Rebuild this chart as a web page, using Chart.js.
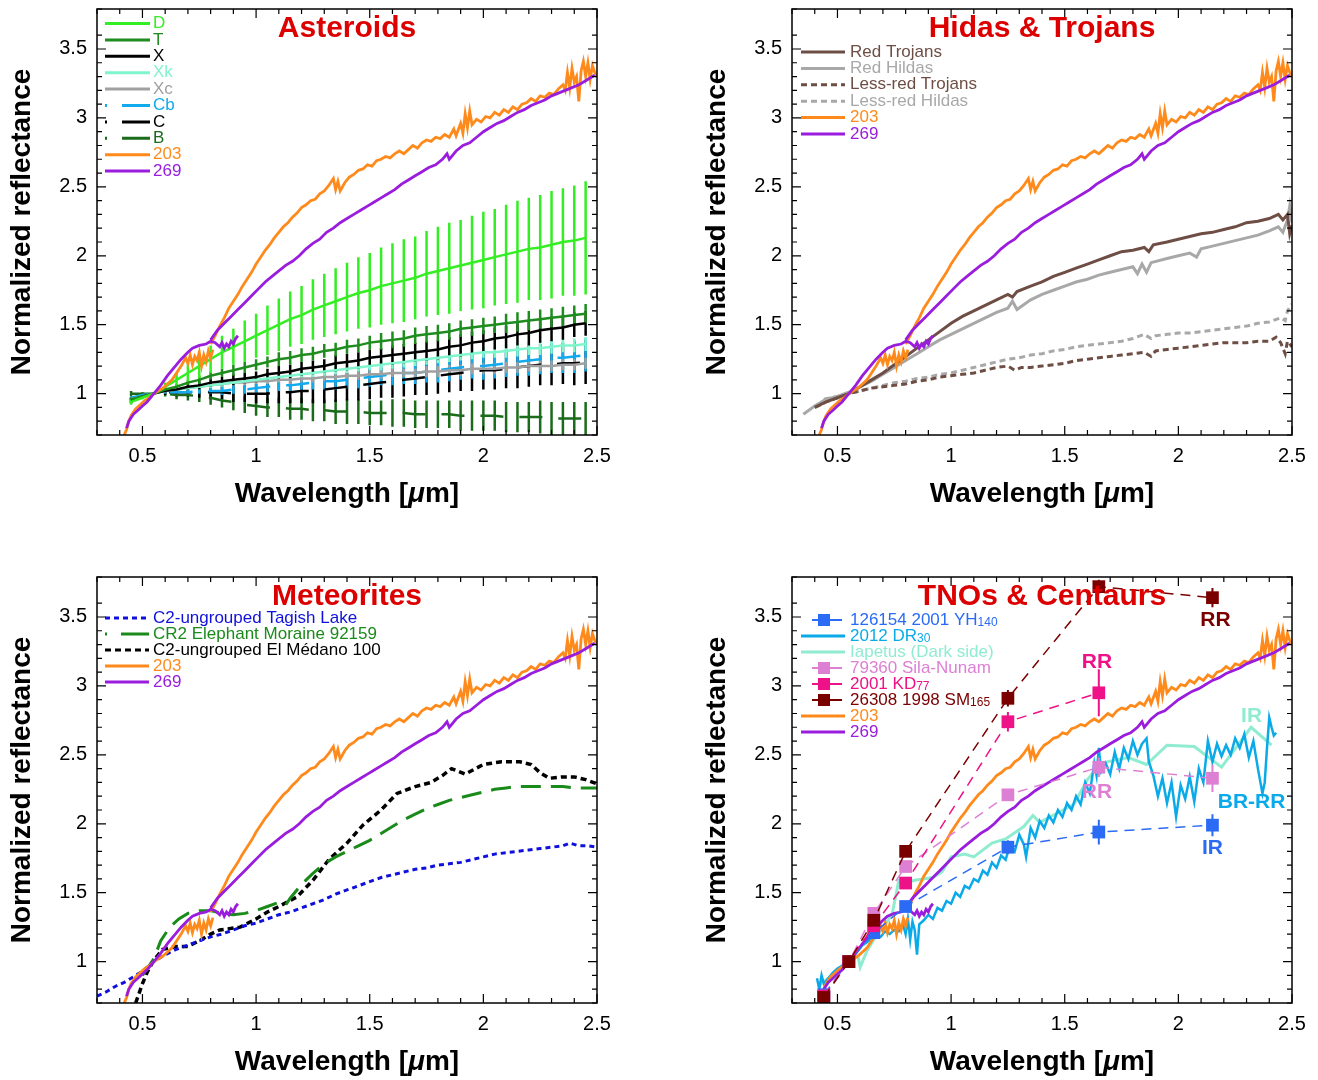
<!DOCTYPE html>
<html>
<head>
<meta charset="utf-8">
<script src="https://cdn.jsdelivr.net/npm/chart.js@4.4.1/dist/chart.umd.min.js"></script>
<style>
  html, body { margin: 0; padding: 0; background: #fff; overflow: hidden; }
  #wrap { position: relative; width: 1318px; height: 1080px; overflow: hidden; }
  canvas { position: absolute; }
</style>
</head>
<body>
<div id="wrap">
  <canvas id="astChart" width="659" height="540" style="left:0;top:-13px"></canvas>
  <canvas id="troChart" width="659" height="540" style="left:659px;top:-13px"></canvas>
  <canvas id="metChart" width="659" height="540" style="left:0;top:540px"></canvas>
  <canvas id="tnoChart" width="659" height="540" style="left:659px;top:540px"></canvas>
</div>
<script>
const FONT = '"Liberation Sans", Arial, Helvetica, sans-serif';
Chart.defaults.font.family = FONT;
Chart.defaults.color = "#000";

// axes
const X_MIN = 0.3, X_MAX = 2.5, Y_MIN = 0.7, Y_MAX = 3.79;
const X_LABELS = [0.5, 1, 1.5, 2, 2.5];
const Y_LABELS = [1, 1.5, 2, 2.5, 3, 3.5];

// 203 and 269 spectra (visible part, then near-IR part)
const S203_VIS = [[0.42,0.70],[0.43,0.74],[0.44,0.80],[0.45,0.84],[0.47,0.89],[0.49,0.92],[0.51,0.95],[0.53,0.97],[0.55,1.00],[0.57,1.02],[0.59,1.04],[0.61,1.07],[0.63,1.10],[0.65,1.15],[0.67,1.20],[0.69,1.26],[0.70,1.22],[0.71,1.28],[0.72,1.21],[0.73,1.27],[0.74,1.24],[0.75,1.30],[0.76,1.20],[0.77,1.28],[0.78,1.23],[0.79,1.31],[0.80,1.26],[0.81,1.32]];
const S203_NIR = [[0.80,1.36],[0.82,1.42],[0.84,1.49],[0.86,1.55],[0.88,1.62],[0.90,1.67],[0.92,1.72],[0.94,1.78],[0.96,1.83],[0.98,1.88],[1.00,1.94],[1.02,1.99],[1.04,2.04],[1.06,2.08],[1.08,2.13],[1.10,2.17],[1.12,2.21],[1.14,2.24],[1.16,2.28],[1.18,2.31],[1.20,2.35],[1.22,2.37],[1.24,2.40],[1.26,2.41],[1.28,2.45],[1.30,2.47],[1.32,2.51],[1.34,2.56],[1.35,2.48],[1.36,2.54],[1.37,2.47],[1.39,2.53],[1.41,2.57],[1.43,2.59],[1.45,2.62],[1.47,2.63],[1.49,2.66],[1.51,2.65],[1.53,2.69],[1.55,2.70],[1.57,2.72],[1.59,2.71],[1.61,2.74],[1.63,2.76],[1.65,2.74],[1.67,2.77],[1.69,2.80],[1.71,2.78],[1.73,2.82],[1.75,2.84],[1.77,2.83],[1.79,2.86],[1.81,2.85],[1.83,2.88],[1.85,2.86],[1.87,2.92],[1.88,2.87],[1.90,2.96],[1.91,2.89],[1.92,3.03],[1.93,2.93],[1.94,3.05],[1.95,2.95],[1.97,2.99],[1.99,2.97],[2.01,3.01],[2.03,3.00],[2.05,3.04],[2.07,3.02],[2.09,3.06],[2.11,3.04],[2.13,3.08],[2.15,3.06],[2.17,3.10],[2.19,3.11],[2.21,3.14],[2.23,3.12],[2.25,3.16],[2.27,3.15],[2.29,3.18],[2.31,3.17],[2.33,3.21],[2.35,3.24],[2.36,3.20],[2.37,3.33],[2.38,3.22],[2.39,3.36],[2.40,3.26],[2.41,3.30],[2.42,3.12],[2.43,3.34],[2.44,3.41],[2.45,3.30],[2.46,3.40],[2.47,3.28],[2.48,3.38],[2.49,3.33],[2.50,3.30]];
const S269_VIS = [[0.43,0.75],[0.44,0.80],[0.46,0.85],[0.48,0.88],[0.50,0.91],[0.52,0.94],[0.55,1.00],[0.58,1.06],[0.61,1.13],[0.64,1.19],[0.67,1.25],[0.70,1.30],[0.72,1.33],[0.75,1.35],[0.78,1.36],[0.80,1.38],[0.82,1.37],[0.84,1.34],[0.85,1.37],[0.86,1.33],[0.87,1.36],[0.88,1.34],[0.89,1.38],[0.90,1.36],[0.91,1.40],[0.92,1.42]];
const S269_NIR = [[0.80,1.39],[0.83,1.46],[0.86,1.51],[0.89,1.56],[0.92,1.61],[0.95,1.66],[0.98,1.71],[1.01,1.76],[1.04,1.81],[1.07,1.85],[1.10,1.89],[1.13,1.93],[1.16,1.96],[1.19,2.00],[1.22,2.05],[1.25,2.09],[1.28,2.12],[1.31,2.17],[1.34,2.20],[1.37,2.24],[1.40,2.27],[1.43,2.30],[1.46,2.33],[1.49,2.36],[1.52,2.39],[1.55,2.42],[1.58,2.45],[1.61,2.48],[1.64,2.52],[1.67,2.55],[1.70,2.58],[1.73,2.61],[1.76,2.64],[1.79,2.66],[1.82,2.70],[1.84,2.74],[1.85,2.70],[1.88,2.76],[1.91,2.80],[1.94,2.82],[1.97,2.86],[2.00,2.90],[2.03,2.93],[2.06,2.96],[2.09,2.98],[2.12,3.01],[2.15,3.04],[2.18,3.06],[2.21,3.09],[2.24,3.11],[2.27,3.13],[2.30,3.16],[2.33,3.18],[2.36,3.20],[2.39,3.22],[2.42,3.24],[2.45,3.27],[2.48,3.30],[2.49,3.31]];

// asteroid class means and standard deviations
const CLASS_WL = [0.45,0.50,0.55,0.60,0.65,0.70,0.75,0.80,0.85,0.90,0.95,1.00,1.05,1.10,1.15,1.20,1.25,1.30,1.35,1.40,1.45,1.50,1.55,1.60,1.65,1.70,1.75,1.80,1.85,1.90,1.95,2.00,2.05,2.10,2.15,2.20,2.25,2.30,2.35,2.40,2.45];
const D_MEAN = [0.94,0.97,1.00,1.05,1.10,1.15,1.20,1.25,1.30,1.34,1.38,1.42,1.46,1.50,1.54,1.57,1.61,1.64,1.67,1.70,1.73,1.75,1.78,1.80,1.82,1.84,1.87,1.89,1.91,1.93,1.95,1.97,1.99,2.01,2.03,2.05,2.06,2.08,2.10,2.11,2.13];
const D_SD = [0.02,0.01,0,0.03,0.05,0.07,0.09,0.10,0.12,0.13,0.15,0.16,0.18,0.19,0.20,0.21,0.22,0.23,0.24,0.25,0.26,0.27,0.28,0.29,0.30,0.30,0.31,0.32,0.33,0.33,0.34,0.35,0.35,0.36,0.37,0.37,0.38,0.39,0.39,0.40,0.41];
const T_MEAN = [0.96,0.98,1.00,1.03,1.05,1.08,1.10,1.13,1.15,1.17,1.19,1.21,1.23,1.25,1.26,1.28,1.29,1.31,1.32,1.34,1.35,1.37,1.38,1.39,1.40,1.42,1.43,1.44,1.45,1.47,1.48,1.49,1.50,1.51,1.52,1.53,1.54,1.55,1.56,1.57,1.58];
const T_SD = [0.01,0.01,0,0.01,0.02,0.02,0.03,0.03,0.03,0.04,0.04,0.04,0.04,0.05,0.05,0.05,0.05,0.05,0.05,0.05,0.05,0.05,0.06,0.06,0.06,0.06,0.06,0.06,0.06,0.06,0.06,0.06,0.06,0.07,0.07,0.07,0.07,0.07,0.07,0.07,0.07];
const X_MEAN = [0.95,0.98,1.00,1.02,1.03,1.05,1.06,1.08,1.09,1.10,1.11,1.12,1.14,1.15,1.16,1.18,1.19,1.20,1.22,1.23,1.24,1.26,1.27,1.28,1.29,1.30,1.31,1.32,1.34,1.35,1.37,1.38,1.40,1.41,1.43,1.44,1.46,1.47,1.48,1.50,1.51];
const X_SD = [0.02,0.01,0,0.01,0.02,0.02,0.03,0.03,0.03,0.04,0.04,0.04,0.04,0.05,0.05,0.05,0.05,0.05,0.06,0.06,0.06,0.06,0.06,0.07,0.07,0.07,0.07,0.07,0.07,0.08,0.08,0.08,0.08,0.08,0.08,0.09,0.09,0.09,0.09,0.09,0.09];
const XK_MEAN = [0.95,0.98,1.00,1.02,1.03,1.04,1.05,1.06,1.07,1.08,1.09,1.10,1.11,1.12,1.13,1.14,1.15,1.16,1.17,1.18,1.19,1.20,1.21,1.22,1.23,1.24,1.25,1.26,1.27,1.28,1.29,1.30,1.30,1.31,1.32,1.33,1.33,1.34,1.35,1.35,1.36];
const XK_SD = [0.01,0.01,0,0.01,0.01,0.01,0.02,0.02,0.02,0.02,0.02,0.02,0.03,0.03,0.03,0.03,0.03,0.03,0.03,0.03,0.03,0.03,0.04,0.04,0.04,0.04,0.04,0.04,0.04,0.04,0.04,0.04,0.04,0.05,0.05,0.05,0.05,0.05,0.05,0.05,0.05];
const XC_MEAN = [0.96,0.98,1.00,1.02,1.03,1.04,1.05,1.06,1.07,1.08,1.08,1.09,1.09,1.10,1.10,1.11,1.11,1.12,1.12,1.13,1.13,1.14,1.14,1.15,1.15,1.15,1.16,1.16,1.17,1.17,1.18,1.18,1.18,1.19,1.19,1.20,1.20,1.20,1.21,1.21,1.22];
const XC_SD = [0.01,0.01,0,0.01,0.01,0.01,0.01,0.02,0.02,0.02,0.02,0.02,0.02,0.02,0.03,0.03,0.03,0.03,0.03,0.03,0.03,0.03,0.03,0.03,0.03,0.03,0.04,0.04,0.04,0.04,0.04,0.04,0.04,0.04,0.04,0.04,0.04,0.04,0.04,0.04,0.04];
const CB_MEAN = [0.97,0.99,1.00,1.01,1.01,1.01,1.02,1.02,1.02,1.03,1.03,1.04,1.05,1.06,1.06,1.07,1.08,1.09,1.09,1.10,1.11,1.12,1.13,1.14,1.15,1.15,1.16,1.17,1.18,1.19,1.20,1.20,1.21,1.22,1.23,1.24,1.25,1.26,1.26,1.27,1.28];
const CB_SD = [0.01,0.01,0,0.01,0.01,0.02,0.02,0.02,0.03,0.03,0.03,0.04,0.04,0.04,0.05,0.05,0.05,0.06,0.06,0.06,0.07,0.07,0.07,0.08,0.08,0.08,0.08,0.09,0.09,0.09,0.09,0.10,0.10,0.10,0.10,0.11,0.11,0.11,0.11,0.12,0.12];
const C_MEAN = [0.95,0.98,1.00,1.01,1.01,1.01,1.01,1.01,1.01,1.00,1.00,1.00,1.00,1.01,1.01,1.02,1.02,1.03,1.04,1.05,1.06,1.07,1.08,1.09,1.10,1.11,1.12,1.13,1.14,1.15,1.16,1.17,1.17,1.18,1.19,1.20,1.21,1.21,1.22,1.22,1.23];
const C_SD = [0.02,0.01,0,0.02,0.03,0.03,0.04,0.05,0.05,0.06,0.06,0.07,0.07,0.08,0.08,0.09,0.09,0.10,0.10,0.10,0.11,0.11,0.11,0.12,0.12,0.12,0.13,0.13,0.13,0.13,0.14,0.14,0.14,0.14,0.15,0.15,0.15,0.15,0.15,0.16,0.16];
const B_MEAN = [1.00,1.00,1.00,1.00,0.99,0.99,0.98,0.97,0.95,0.94,0.92,0.91,0.90,0.90,0.89,0.89,0.88,0.88,0.87,0.87,0.87,0.86,0.86,0.86,0.86,0.85,0.85,0.85,0.85,0.84,0.84,0.84,0.84,0.83,0.83,0.83,0.83,0.82,0.82,0.82,0.82];
const B_SD = [0.02,0.01,0,0.02,0.03,0.04,0.04,0.05,0.05,0.06,0.06,0.07,0.07,0.07,0.08,0.08,0.08,0.08,0.09,0.09,0.09,0.09,0.09,0.10,0.10,0.10,0.10,0.10,0.10,0.11,0.11,0.11,0.11,0.11,0.11,0.11,0.12,0.12,0.12,0.12,0.12];

// Hildas & Trojans averages
const RED_TROJANS = [[0.40,0.90],[0.45,0.94],[0.50,0.97],[0.55,1.00],[0.60,1.05],[0.65,1.10],[0.70,1.15],[0.75,1.21],[0.80,1.27],[0.85,1.33],[0.90,1.39],[0.95,1.45],[1.00,1.51],[1.05,1.56],[1.10,1.60],[1.15,1.64],[1.20,1.68],[1.25,1.72],[1.27,1.70],[1.29,1.74],[1.35,1.78],[1.40,1.81],[1.45,1.85],[1.50,1.88],[1.55,1.91],[1.60,1.94],[1.65,1.97],[1.70,2.00],[1.75,2.03],[1.80,2.04],[1.85,2.06],[1.87,2.03],[1.89,2.08],[1.95,2.10],[2.00,2.12],[2.05,2.14],[2.10,2.16],[2.15,2.17],[2.20,2.19],[2.25,2.21],[2.30,2.24],[2.35,2.25],[2.40,2.27],[2.44,2.30],[2.46,2.26],[2.48,2.30],[2.49,2.16],[2.50,2.22]];
const RED_HILDAS = [[0.35,0.85],[0.40,0.91],[0.45,0.96],[0.50,0.98],[0.55,1.01],[0.60,1.05],[0.65,1.09],[0.70,1.14],[0.75,1.19],[0.80,1.24],[0.85,1.29],[0.90,1.34],[0.95,1.39],[1.00,1.43],[1.05,1.47],[1.10,1.51],[1.15,1.55],[1.20,1.59],[1.25,1.62],[1.27,1.67],[1.29,1.61],[1.35,1.68],[1.40,1.72],[1.45,1.75],[1.50,1.78],[1.55,1.81],[1.60,1.83],[1.65,1.86],[1.70,1.88],[1.75,1.90],[1.80,1.92],[1.82,1.87],[1.84,1.94],[1.86,1.88],[1.88,1.95],[1.95,1.98],[2.00,2.00],[2.05,2.02],[2.08,1.99],[2.10,2.05],[2.15,2.07],[2.20,2.09],[2.25,2.11],[2.30,2.13],[2.35,2.15],[2.40,2.18],[2.44,2.21],[2.46,2.17],[2.48,2.26],[2.49,2.36],[2.50,2.24]];
const LR_TROJANS = [[0.40,0.90],[0.45,0.94],[0.50,0.97],[0.55,1.00],[0.60,1.02],[0.65,1.04],[0.70,1.05],[0.75,1.06],[0.80,1.07],[0.85,1.09],[0.90,1.10],[0.95,1.12],[1.00,1.13],[1.05,1.14],[1.10,1.15],[1.15,1.17],[1.20,1.19],[1.25,1.20],[1.28,1.17],[1.31,1.19],[1.35,1.19],[1.40,1.20],[1.45,1.21],[1.50,1.22],[1.55,1.24],[1.60,1.25],[1.65,1.26],[1.70,1.27],[1.75,1.28],[1.80,1.29],[1.85,1.30],[1.88,1.27],[1.90,1.31],[1.95,1.32],[2.00,1.33],[2.05,1.34],[2.10,1.35],[2.15,1.36],[2.20,1.37],[2.25,1.37],[2.30,1.37],[2.35,1.38],[2.40,1.38],[2.43,1.41],[2.45,1.37],[2.47,1.29],[2.48,1.38],[2.50,1.34]];
const LR_HILDAS = [[0.44,0.96],[0.50,0.98],[0.55,1.00],[0.60,1.02],[0.65,1.04],[0.70,1.06],[0.75,1.08],[0.80,1.09],[0.85,1.11],[0.90,1.12],[0.95,1.14],[1.00,1.15],[1.05,1.17],[1.10,1.19],[1.15,1.21],[1.20,1.23],[1.25,1.25],[1.30,1.26],[1.35,1.28],[1.40,1.29],[1.45,1.31],[1.50,1.32],[1.55,1.34],[1.60,1.35],[1.65,1.36],[1.70,1.37],[1.75,1.38],[1.80,1.40],[1.85,1.43],[1.88,1.40],[1.90,1.42],[1.95,1.43],[2.00,1.44],[2.05,1.44],[2.10,1.45],[2.15,1.46],[2.20,1.47],[2.25,1.48],[2.30,1.49],[2.35,1.51],[2.40,1.52],[2.45,1.55],[2.47,1.53],[2.48,1.60],[2.50,1.65]];

// meteorites
const TAGISH = [[0.30,0.75],[0.34,0.78],[0.38,0.82],[0.42,0.85],[0.46,0.89],[0.50,0.93],[0.55,1.00],[0.60,1.05],[0.65,1.09],[0.70,1.12],[0.75,1.15],[0.80,1.18],[0.85,1.20],[0.90,1.23],[0.95,1.26],[1.00,1.28],[1.05,1.31],[1.10,1.34],[1.15,1.36],[1.20,1.39],[1.25,1.42],[1.30,1.45],[1.35,1.49],[1.40,1.52],[1.45,1.55],[1.50,1.58],[1.55,1.61],[1.60,1.63],[1.65,1.65],[1.70,1.67],[1.75,1.68],[1.80,1.70],[1.85,1.71],[1.90,1.72],[1.95,1.74],[2.00,1.76],[2.05,1.78],[2.10,1.79],[2.15,1.80],[2.20,1.81],[2.25,1.82],[2.30,1.83],[2.35,1.84],[2.38,1.86],[2.42,1.84],[2.46,1.84],[2.50,1.83]];
const EET92159 = [[0.50,0.90],[0.55,1.02],[0.58,1.15],[0.62,1.25],[0.66,1.31],[0.70,1.35],[0.75,1.37],[0.80,1.37],[0.85,1.35],[0.90,1.34],[0.95,1.35],[1.00,1.37],[1.05,1.40],[1.10,1.43],[1.13,1.41],[1.15,1.46],[1.20,1.56],[1.25,1.64],[1.30,1.71],[1.35,1.76],[1.40,1.80],[1.45,1.84],[1.50,1.88],[1.55,1.93],[1.60,1.98],[1.65,2.03],[1.70,2.07],[1.75,2.11],[1.80,2.14],[1.85,2.17],[1.90,2.19],[1.95,2.21],[2.00,2.23],[2.05,2.25],[2.10,2.26],[2.15,2.27],[2.20,2.27],[2.25,2.27],[2.30,2.27],[2.35,2.27],[2.40,2.26],[2.45,2.26],[2.50,2.26]];
const ELMEDANO = [[0.47,0.70],[0.50,0.84],[0.52,0.92],[0.55,1.01],[0.59,1.09],[0.65,1.11],[0.70,1.11],[0.76,1.16],[0.80,1.20],[0.84,1.23],[0.93,1.25],[1.00,1.31],[1.05,1.36],[1.10,1.40],[1.18,1.47],[1.25,1.59],[1.32,1.74],[1.40,1.86],[1.47,1.99],[1.55,2.10],[1.62,2.22],[1.70,2.27],[1.77,2.30],[1.82,2.35],[1.86,2.40],[1.92,2.36],[2.00,2.43],[2.08,2.45],[2.16,2.45],[2.21,2.43],[2.25,2.37],[2.29,2.33],[2.35,2.34],[2.40,2.34],[2.45,2.32],[2.50,2.29]];

// TNOs & Centaurs: photometry (B V R I J H K) and spectra
const PHOT_WL = [0.44, 0.55, 0.66, 0.80, 1.25, 1.65, 2.15];
const YH140 = [0.76, 1.00, 1.21, 1.40, 1.83, 1.94, 1.99];
const YH140_ERR = [0.02, 0, 0.02, 0.03, 0.05, 0.09, 0.08];
const SILA = [0.75, 1.00, 1.35, 1.69, 2.21, 2.41, 2.33];
const SILA_ERR = [0.02, 0, 0.02, 0.03, 0.04, 0.07, 0.10];
const KD77 = [0.75, 1.00, 1.26, 1.57, 2.74, 2.95];
const KD77_ERR = [0.02, 0, 0.02, 0.03, 0.07, 0.17];
const SM165 = [0.74, 1.00, 1.30, 1.80, 2.91, 3.72, 3.64];
const SM165_ERR = [0.02, 0, 0.03, 0.04, 0.06, 0.05, 0.07];
const DR30 = [[0.41,0.88],[0.42,0.80],[0.43,0.90],[0.44,0.84],[0.46,0.88],[0.48,0.92],[0.50,0.95],[0.52,0.97],[0.55,1.01],[0.57,1.04],[0.59,1.08],[0.61,1.12],[0.63,1.14],[0.65,1.17],[0.67,1.19],[0.69,1.18],[0.71,1.22],[0.73,1.20],[0.75,1.23],[0.77,1.22],[0.79,1.26],[0.80,1.20],[0.81,1.31],[0.82,1.16],[0.83,1.29],[0.84,1.23],[0.85,1.05],[0.86,1.27],[0.88,1.30],[0.90,1.34],[0.92,1.31],[0.94,1.39],[0.96,1.37],[0.98,1.44],[1.00,1.42],[1.02,1.50],[1.04,1.47],[1.06,1.55],[1.08,1.53],[1.10,1.60],[1.12,1.58],[1.14,1.66],[1.16,1.63],[1.18,1.72],[1.20,1.68],[1.22,1.77],[1.24,1.74],[1.26,1.85],[1.28,1.80],[1.30,1.92],[1.32,1.85],[1.33,1.76],[1.35,1.97],[1.37,1.90],[1.39,2.02],[1.41,1.97],[1.43,2.06],[1.45,2.01],[1.47,2.10],[1.49,2.05],[1.51,2.15],[1.53,2.10],[1.55,2.20],[1.57,2.14],[1.59,2.30],[1.61,2.22],[1.63,2.44],[1.64,2.35],[1.65,2.55],[1.66,2.38],[1.68,2.44],[1.70,2.36],[1.72,2.52],[1.74,2.40],[1.76,2.55],[1.78,2.47],[1.80,2.60],[1.82,2.50],[1.84,2.58],[1.86,2.62],[1.87,2.45],[1.89,2.35],[1.91,2.20],[1.93,2.33],[1.95,2.15],[1.97,2.30],[1.99,2.05],[2.01,2.28],[2.03,2.18],[2.05,2.34],[2.07,2.16],[2.09,2.40],[2.11,2.30],[2.13,2.60],[2.15,2.45],[2.17,2.58],[2.19,2.49],[2.21,2.57],[2.23,2.50],[2.25,2.62],[2.27,2.55],[2.29,2.65],[2.31,2.48],[2.33,2.60],[2.35,2.40],[2.37,2.22],[2.38,2.30],[2.39,2.55],[2.40,2.77],[2.41,2.70],[2.42,2.64],[2.43,2.66]];
const IAPETUS = [[0.42,0.83],[0.46,0.88],[0.52,0.96],[0.56,1.01],[0.59,1.04],[0.60,0.96],[0.63,1.08],[0.66,1.16],[0.70,1.25],[0.74,1.34],[0.77,1.59],[0.80,1.57],[0.84,1.59],[0.92,1.61],[0.96,1.65],[1.00,1.76],[1.06,1.78],[1.10,1.76],[1.18,1.86],[1.24,1.89],[1.32,1.98],[1.36,2.06],[1.39,2.01],[1.47,2.08],[1.54,2.14],[1.60,2.32],[1.66,2.44],[1.78,2.48],[1.86,2.43],[1.95,2.57],[2.07,2.56],[2.19,2.41],[2.32,2.70],[2.41,2.57]];
const TNO_NOTES = [
  { text: "RR", x: 2.163, y: 3.48, color: "#7a0000" },
  { text: "RR", x: 1.642, y: 3.17, color: "#ee1188" },
  { text: "RR", x: 1.642, y: 2.23, color: "#dd80d4" },
  { text: "IR", x: 2.150, y: 1.82, color: "#2a6af5" },
  { text: "IR", x: 2.322, y: 2.78, color: "#90ecd0" },
  { text: "BR-RR", x: 2.322, y: 2.16, color: "#0aaae8" },
];

// helpers
const pts = (arr) => arr.map(([x, y]) => ({ x, y }));
const gapJoin = (a, b) => pts(a).concat([{ x: a[a.length - 1][0], y: null }], pts(b));
const zipXY = (xs, ys) => ys.map((y, i) => ({ x: xs[i], y }));
function errBars(xs, ys, es) {
  const out = [];
  ys.forEach((y, i) => {
    if (!es[i]) return;
    out.push({ x: xs[i], y: y - es[i] }, { x: xs[i], y: y + es[i] }, { x: xs[i], y: null });
  });
  return out;
}
function line(label, data, color, extra) {
  return Object.assign({ label, data, borderColor: color, backgroundColor: color, borderWidth: 2.5,
    pointRadius: 0, fill: false, tension: 0, inLegend: true, order: 2 }, extra || {});
}
function bars(data, color, width, order) {
  return { label: "", data, borderColor: color, borderWidth: width || 2.5, pointRadius: 0, fill: false,
    inLegend: false, order: order === undefined ? 3 : order };
}
function spectra() {
  return [
    line("203", gapJoin(S203_VIS, S203_NIR), "#ff8a1c", { order: 1, borderWidth: 2.8 }),
    line("269", gapJoin(S269_VIS, S269_NIR), "#9a1ddd", { order: 0, borderWidth: 2.8 }),
  ];
}
const LEGEND_DASHDOT = [2, 15, 40];
function classSets(label, mean, sd, color, dash) {
  return [
    line(label, zipXY(CLASS_WL, mean), color, dash ? { borderDash: dash, legendDash: LEGEND_DASHDOT } : {}),
    bars(errBars(CLASS_WL, mean, sd), color),
  ];
}
function photSets(label, sub, ys, es, color, order) {
  return [
    line(label, zipXY(PHOT_WL, ys), color, { sub, borderWidth: 1.5, borderDash: [10, 7], pointStyle: "rect",
      pointRadius: 9, pointHoverRadius: 9, pointBorderWidth: 0, pointBackgroundColor: color, order }),
    bars(errBars(PHOT_WL, ys, es), color, 2, order + 0.5),
  ];
}

// frame, inward ticks, titles, notes and the legend
const decor = {
  id: "decor",
  afterDatasetsDraw(chart, args, o) {
    const { ctx, chartArea: a, scales } = chart;
    const isMajor = (v, list) => list.some((l) => Math.abs(l - v) < 1e-6);
    ctx.save();
    ctx.setLineDash([]);
    ctx.strokeStyle = "#000";
    ctx.lineWidth = 1.5;
    ctx.strokeRect(a.left, a.top, a.right - a.left, a.bottom - a.top);
    ctx.lineWidth = 1.2;
    ctx.beginPath();
    scales.x.ticks.forEach((t) => {
      const p = scales.x.getPixelForValue(t.value);
      const len = isMajor(t.value, X_LABELS) ? 9 : 5;
      ctx.moveTo(p, a.bottom); ctx.lineTo(p, a.bottom - len);
      ctx.moveTo(p, a.top); ctx.lineTo(p, a.top + len);
    });
    scales.y.ticks.forEach((t) => {
      const p = scales.y.getPixelForValue(t.value);
      const len = isMajor(t.value, Y_LABELS) ? 9 : 5;
      ctx.moveTo(a.left, p); ctx.lineTo(a.left + len, p);
      ctx.moveTo(a.right, p); ctx.lineTo(a.right - len, p);
    });
    ctx.stroke();

    // axis titles
    ctx.fillStyle = "#000";
    ctx.textBaseline = "middle";
    const bold = "bold 28px " + FONT, boldIt = "italic bold 28px " + FONT;
    const parts = [["Wavelength [", bold], ["\u03bc", boldIt], ["m]", bold]];
    let w = 0;
    parts.forEach(([s, f]) => { ctx.font = f; w += ctx.measureText(s).width; });
    let xx = (a.left + a.right) / 2 - w / 2;
    ctx.textAlign = "left";
    parts.forEach(([s, f]) => { ctx.font = f; ctx.fillText(s, xx, a.bottom + 59); xx += ctx.measureText(s).width; });
    ctx.save();
    ctx.translate(a.left - 75, (a.top + a.bottom) / 2);
    ctx.rotate(-Math.PI / 2);
    ctx.textAlign = "center";
    ctx.font = bold;
    ctx.fillText("Normalized reflectance", 0, 0);
    ctx.restore();

    // panel title
    ctx.textAlign = "center";
    ctx.font = "bold 30px " + FONT;
    ctx.fillStyle = "#dd0000";
    ctx.fillText(o.title, (a.left + a.right) / 2, a.top + 20);

    // notes
    (o.notes || []).forEach((n) => {
      ctx.font = "bold 21px " + FONT;
      ctx.fillStyle = n.color;
      ctx.fillText(n.text, scales.x.getPixelForValue(n.x), scales.y.getPixelForValue(n.y));
    });

    // legend
    const lg = o.legend;
    let row = 0;
    chart.data.datasets.forEach((ds) => {
      if (!ds.inLegend) return;
      const y = a.top + lg.dy + row * lg.row;
      const x0 = a.left + lg.dx, x1 = x0 + lg.len;
      ctx.strokeStyle = ds.borderColor;
      ctx.beginPath();
      if (ds.pointStyle === "rect") {
        ctx.setLineDash([]);
        ctx.lineWidth = 2;
        ctx.moveTo(x0 + 11, y); ctx.lineTo(x1 - 3, y);
        ctx.stroke();
        ctx.fillStyle = ds.borderColor;
        ctx.fillRect(x0 + 17, y - 6, 12, 12);
      } else {
        ctx.setLineDash(ds.legendDash || ds.borderDash || []);
        ctx.lineWidth = 3;
        ctx.moveTo(x0, y); ctx.lineTo(x1, y);
        ctx.stroke();
        ctx.setLineDash([]);
      }
      ctx.fillStyle = ds.borderColor;
      ctx.textAlign = "left";
      ctx.font = "17px " + FONT;
      const tx = x0 + lg.len + lg.gap;
      ctx.fillText(ds.label, tx, y);
      if (ds.sub) {
        const sw = ctx.measureText(ds.label).width;
        ctx.font = "12px " + FONT;
        ctx.fillText(ds.sub, tx + sw, y + 3);
      }
      row++;
    });
    ctx.restore();
  },
};

function makeChart(id, datasets, cfg) {
  const tickLabel = (list) => (v) => {
    const hit = list.find((l) => Math.abs(l - v) < 1e-6);
    return hit === undefined ? "" : String(hit);
  };
  return new Chart(document.getElementById(id), {
    type: "line",
    data: { datasets },
    plugins: [decor],
    options: {
      responsive: false,
      animation: false,
      events: [],
      layout: { padding: { left: cfg.padLeft, right: cfg.padRight, top: cfg.padTop, bottom: 0 } },
      plugins: {
        legend: { display: false },
        tooltip: { enabled: false },
        decor: { title: cfg.title, legend: cfg.legend, notes: cfg.notes },
      },
      scales: {
        x: {
          type: "linear", min: X_MIN, max: X_MAX,
          afterFit: (s) => { s.height = cfg.xHeight; },
          grid: { display: false, drawTicks: false },
          border: { display: false },
          ticks: { stepSize: 0.1, autoSkip: false, maxRotation: 0, padding: 9, color: "#000",
            font: { size: 20 }, callback: tickLabel(X_LABELS) },
        },
        y: {
          type: "linear", min: Y_MIN, max: Y_MAX,
          afterFit: (s) => { s.width = 97; },
          grid: { display: false, drawTicks: false },
          border: { display: false },
          ticks: { stepSize: 0.1, autoSkip: false, padding: 10, color: "#000",
            font: { size: 20 }, callback: tickLabel(Y_LABELS) },
        },
      },
    },
  });
}

// Asteroids
const DASHED = [23, 16];
makeChart("astChart", [
  ...classSets("D", D_MEAN, D_SD, "#33ee22"),
  ...classSets("T", T_MEAN, T_SD, "#1e8c1e"),
  ...classSets("X", X_MEAN, X_SD, "#000000"),
  ...classSets("Xk", XK_MEAN, XK_SD, "#7ff5cc"),
  ...classSets("Xc", XC_MEAN, XC_SD, "#a0a0a0"),
  ...classSets("Cb", CB_MEAN, CB_SD, "#11aaee", DASHED),
  ...classSets("C", C_MEAN, C_SD, "#000000", DASHED),
  ...classSets("B", B_MEAN, B_SD, "#1a6b1a", DASHED),
  ...spectra(),
], { padLeft: 0, padRight: 62, padTop: 21, xHeight: 92, title: "Asteroids",
     legend: { dx: 8, dy: 14.5, row: 16.4, len: 45, gap: 3 } });

// Hildas & Trojans
makeChart("troChart", [
  line("Red Trojans", pts(RED_TROJANS), "#6e4e44", { borderWidth: 3 }),
  line("Red Hildas", pts(RED_HILDAS), "#a8a8a8", { borderWidth: 3 }),
  line("Less-red Trojans", pts(LR_TROJANS), "#6e4e44", { borderWidth: 3, borderDash: [6, 4] }),
  line("Less-red Hildas", pts(LR_HILDAS), "#a8a8a8", { borderWidth: 3, borderDash: [6, 4] }),
  ...spectra(),
], { padLeft: 36, padRight: 26, padTop: 21, xHeight: 92, title: "Hidas & Trojans",
     legend: { dx: 9, dy: 43, row: 16.4, len: 44, gap: 5 } });

// Meteorites
makeChart("metChart", [
  line("C2-ungrouped Tagish Lake", pts(TAGISH), "#1010dd", { borderWidth: 3, borderDash: [5, 4] }),
  line("CR2 Elephant Moraine 92159", pts(EET92159), "#1a8a1a", { borderWidth: 3, borderDash: [20, 10], legendDash: [2, 14, 40] }),
  line("C2-ungrouped El M\u00e9dano 100", pts(ELMEDANO), "#000000", { borderWidth: 3.5, borderDash: [6, 4] }),
  ...spectra(),
], { padLeft: 0, padRight: 62, padTop: 37, xHeight: 77, title: "Meteorites",
     legend: { dx: 8, dy: 41, row: 16, len: 44, gap: 4 } });

// TNOs & Centaurs
makeChart("tnoChart", [
  ...photSets("126154 2001 YH", "140", YH140, YH140_ERR, "#2a6af5", -1),
  line("2012 DR", pts(DR30), "#0aaae8", { sub: "30", borderWidth: 2.5 }),
  line("Iapetus (Dark side)", pts(IAPETUS), "#90ecd0", { borderWidth: 3 }),
  ...photSets("79360 Sila-Nunam", "", SILA, SILA_ERR, "#dd80d4", -2),
  ...photSets("2001 KD", "77", KD77, KD77_ERR, "#ee1188", -3),
  ...photSets("26308 1998 SM", "165", SM165, SM165_ERR, "#7a0000", -4),
  ...spectra(),
], { padLeft: 36, padRight: 26, padTop: 37, xHeight: 77, title: "TNOs & Centaurs", notes: TNO_NOTES,
     legend: { dx: 9, dy: 43, row: 16, len: 44, gap: 5 } });
</script>
</body>
</html>
